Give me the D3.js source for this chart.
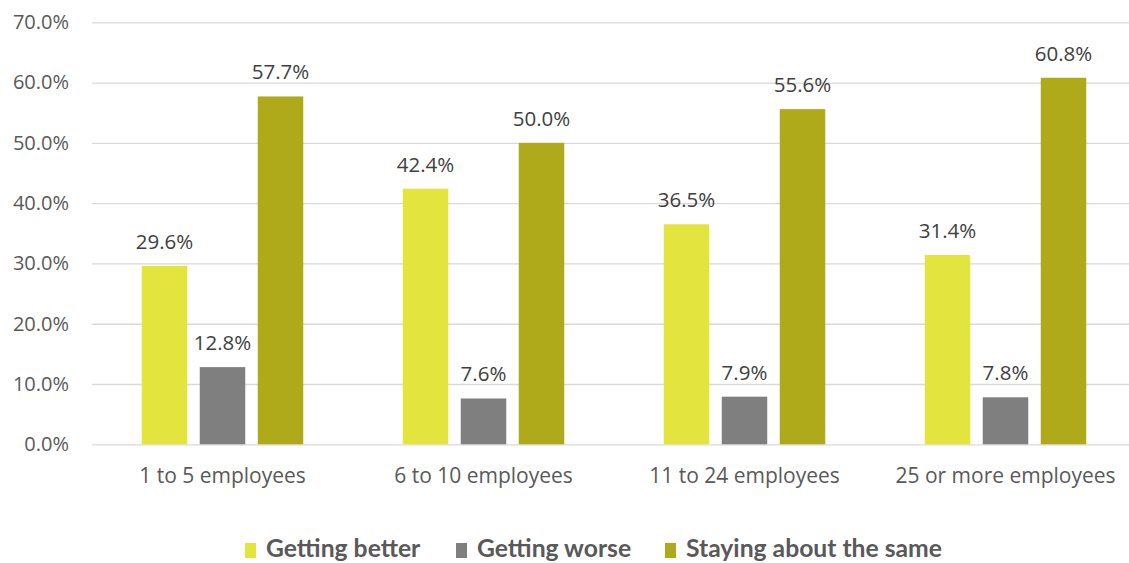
<!DOCTYPE html>
<html><head><meta charset="utf-8">
<script src="https://cdn.jsdelivr.net/npm/d3@7"></script>
<style>html,body{margin:0;padding:0;background:#fff;overflow:hidden}</style>
</head><body>
<svg id="chart" width="1129" height="563"></svg>
<script>
const categories = ["1 to 5 employees", "6 to 10 employees", "11 to 24 employees", "25 or more employees"];
const seriesNames = ["Getting better", "Getting worse", "Staying about the same"];
const gettingBetter = [29.6, 42.4, 36.5, 31.4];
const gettingWorse = [12.8, 7.6, 7.9, 7.8];
const stayingSame = [57.7, 50.0, 55.6, 60.8];
const yTicks = [0, 10, 20, 30, 40, 50, 60, 70];
const colors = ["#E4E43F", "#7F7F7F", "#AEAA1A"];

const seriesValues = [gettingBetter, gettingWorse, stayingSame];
const svg = d3.select("#chart");
const mLeft = 92, mRight = 1136, mTop = 22.3, mBottom = 444.3;

const y = d3.scaleLinear().domain([0, 70]).range([mBottom, mTop]);
const x0 = d3.scaleBand().domain(categories).range([mLeft, mRight]).paddingInner(0).paddingOuter(0);
const x1 = d3.scaleBand().domain(seriesNames).range([-80.75, 80.75]).paddingInner(0.2155).paddingOuter(0);

// gridlines + y labels
const yAxis = d3.axisLeft(y).tickValues(yTicks).tickSize(-(mRight - mLeft)).tickFormat(d => d.toFixed(1) + "%").tickPadding(23);
const ga = svg.append("g").attr("transform", `translate(${mLeft},0)`).call(yAxis);
ga.select(".domain").remove();
ga.selectAll(".tick line").attr("stroke", "#D9D9D9").attr("stroke-width", 1.3);
ga.selectAll(".tick text").attr("fill", "#595959").style("font-family", "'Open Sans', sans-serif").style("font-size", "20px");

// x axis labels
const xAxis = d3.axisBottom(x0).tickSize(0).tickPadding(24);
const gx = svg.append("g").attr("transform", `translate(0,${mBottom})`).call(xAxis);
gx.select(".domain").remove();
gx.selectAll(".tick text").attr("fill", "#595959").style("font-family", "'Open Sans', sans-serif").style("font-size", "21px");

// bars
const data = [];
categories.forEach((c, i) => seriesNames.forEach((s, j) => data.push({c, s, j, v: seriesValues[j][i]})));
const gb = svg.append("g");
gb.selectAll("rect").data(data).join("rect")
  .attr("x", d => x0(d.c) + x0.bandwidth() / 2 + x1(d.s))
  .attr("width", x1.bandwidth())
  .attr("y", d => y(d.v))
  .attr("height", d => y(0) - y(d.v))
  .attr("fill", d => colors[d.j]);

gb.selectAll("text").data(data).join("text")
  .attr("x", d => x0(d.c) + x0.bandwidth() / 2 + x1(d.s) + x1.bandwidth() / 2)
  .attr("y", d => y(d.v) - 17)
  .attr("text-anchor", "middle")
  .attr("fill", "#404040")
  .style("font-family", "'Open Sans', sans-serif").style("font-size", "20.5px")
  .text(d => d.v.toFixed(1) + "%");

// legend
const legendX = [245, 456, 665];
const lg = svg.append("g");
seriesNames.forEach((s, j) => {
  lg.append("rect").attr("x", legendX[j]).attr("y", 543).attr("width", 11).attr("height", 15).attr("fill", colors[j]);
  lg.append("text").attr("x", legendX[j] + 21).attr("y", 557)
    .attr("fill", "#595959").style("font-family", "Lato, sans-serif").style("font-weight", "bold").style("font-size", "24.7px")
    .text(s);
});
</script>
</body></html>
